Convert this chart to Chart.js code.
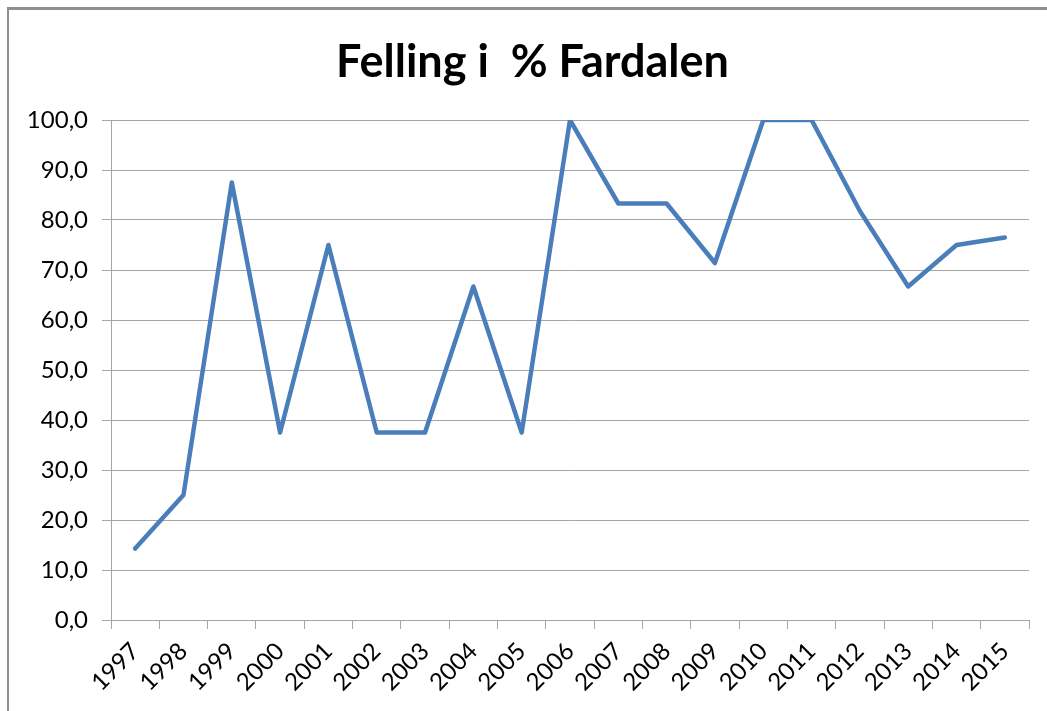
<!DOCTYPE html>
<html>
<head>
<meta charset="utf-8">
<script src="https://cdn.jsdelivr.net/npm/chart.js@4/dist/chart.umd.min.js"></script>
<style>
  html, body { margin: 0; padding: 0; background: #fff; }
  #wrap { position: relative; width: 1047px; height: 711px; overflow: hidden; background: #fff; }
  #frame { position: absolute; left: 7px; top: 7px; width: 1100px; height: 800px;
           border-top: 3px solid #8f8f8f; border-left: 2px solid #8f8f8f; box-sizing: border-box; }
  canvas { position: absolute; left: 0; top: 0; }
</style>
</head>
<body>
<div id="wrap">
  <div id="frame"></div>
  <canvas id="c" width="1047" height="711"></canvas>
</div>
<script>
const titleText = 'Felling i  % Fardalen';
const years = ['1997','1998','1999','2000','2001','2002','2003','2004','2005','2006',
               '2007','2008','2009','2010','2011','2012','2013','2014','2015'];
const fellingPct = [14.3, 25.0, 87.5, 37.5, 75.0, 37.5, 37.5, 66.7, 37.5, 100.0,
                    83.3, 83.3, 71.4, 100.0, 100.0, 81.8, 66.7, 75.0, 76.5];
const yTickLabels = ['0,0','10,0','20,0','30,0','40,0','50,0','60,0','70,0','80,0','90,0','100,0'];

const gridColor = '#a6a6a6';
const textColor = '#000000';
const fontFamily = 'Lato, "Open Sans", sans-serif';

const titleShift = {
  id: 'titleShift',
  afterLayout(chart) {
    if (chart.titleBlock) { chart.titleBlock.left += 16; }
  }
};

new Chart(document.getElementById('c'), {
  type: 'line',
  data: {
    labels: years,
    datasets: [{
      data: fellingPct,
      borderColor: '#4a7ebb',
      borderWidth: 4.5,
      pointRadius: 0,
      tension: 0,
      fill: false,
      borderCapStyle: 'round',
      borderJoinStyle: 'round'
    }]
  },
  plugins: [titleShift],
  options: {
    responsive: false,
    animation: false,
    layout: { padding: { left: 20, right: 18, top: 0, bottom: 0 } },
    plugins: {
      legend: { display: false },
      tooltip: { enabled: false },
      title: {
        display: true,
        text: titleText,
        color: '#000',
        font: { family: fontFamily, size: 45, weight: 'bold', lineHeight: 1.2 },
        padding: { top: 35, bottom: 31 }
      }
    },
    scales: {
      x: {
        offset: true,
        grid: { display: true, drawOnChartArea: false, drawTicks: true, tickLength: 9,
                offset: true, color: gridColor, lineWidth: 1 },
        border: { display: true, color: gridColor, width: 1 },
        ticks: { color: textColor, font: { family: fontFamily, size: 24 },
                 autoSkip: false, maxRotation: 45, minRotation: 45, padding: 8 },
        afterFit: (s) => { s.height = 91; }
      },
      y: {
        min: 0, max: 100,
        grid: { display: true, drawTicks: true, tickLength: 9, color: gridColor, lineWidth: 1 },
        border: { display: true, color: gridColor, width: 1 },
        ticks: { stepSize: 10, color: textColor, font: { family: fontFamily, size: 24 }, padding: 14,
                 callback: (v, i) => yTickLabels[i] },
        afterFit: (s) => { s.width = 91; }
      }
    }
  }
});
</script>
</body>
</html>
